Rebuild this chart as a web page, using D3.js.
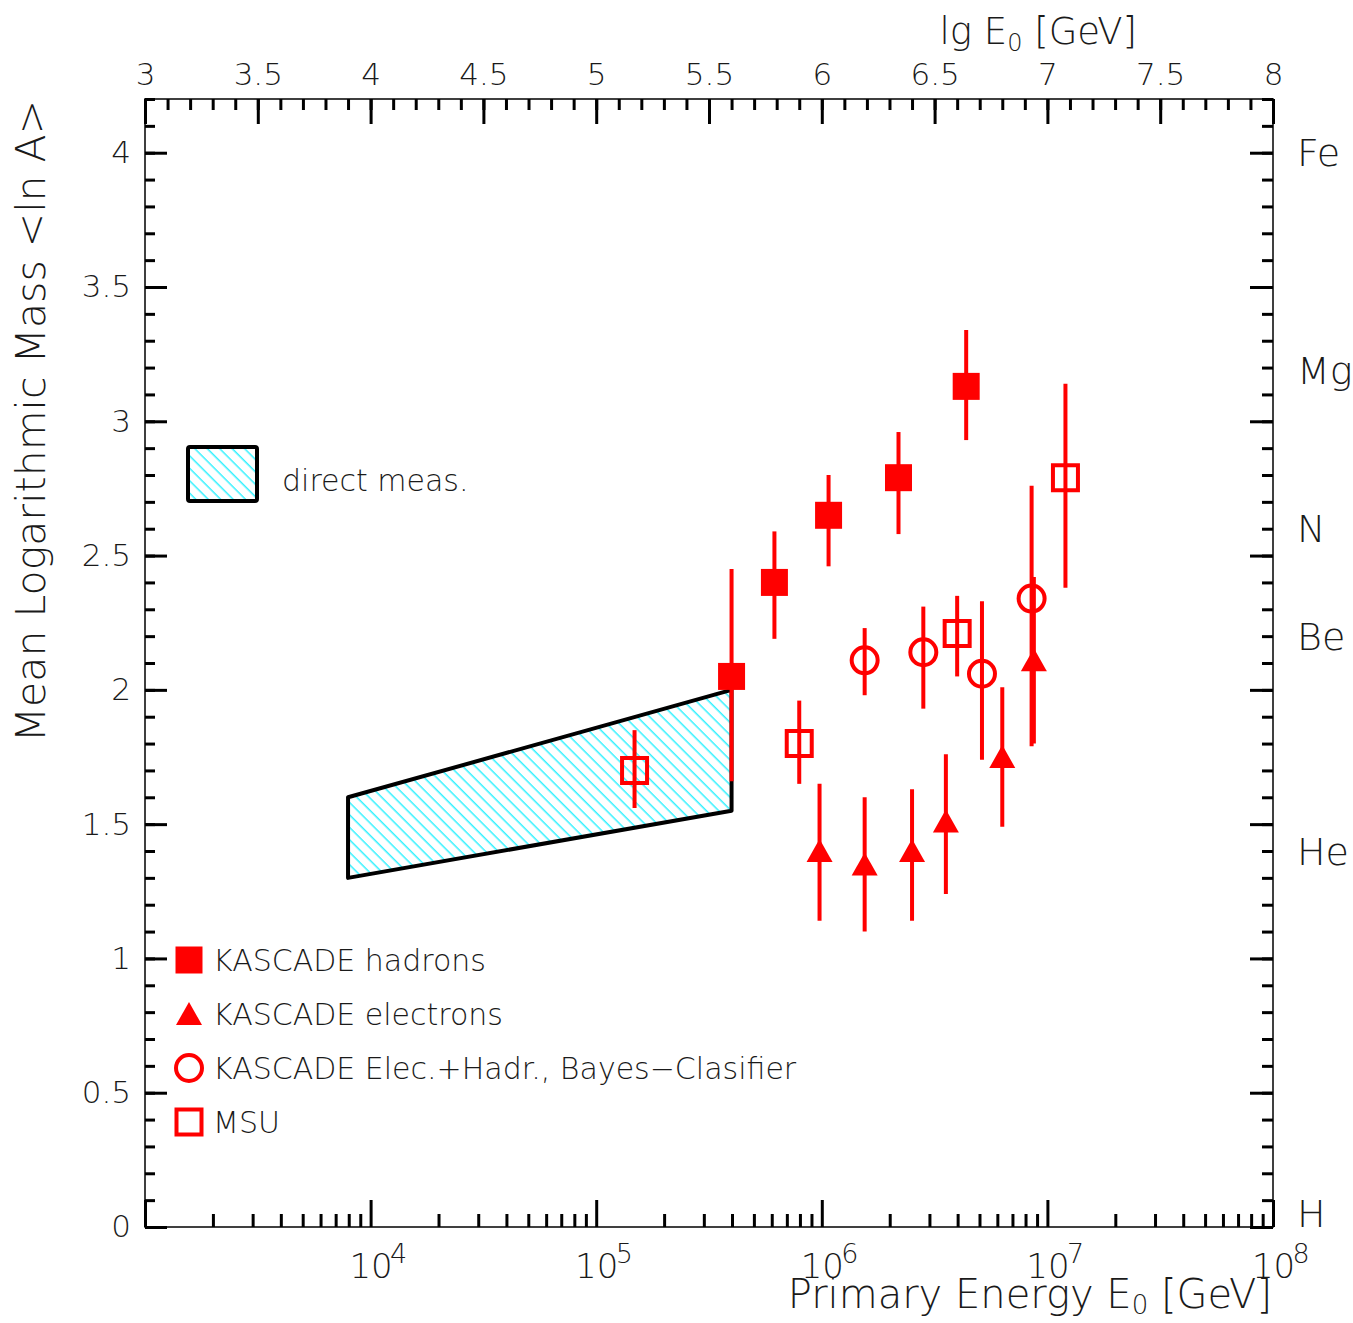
<!DOCTYPE html>
<html>
<head>
<meta charset="utf-8">
<script src="https://cdn.jsdelivr.net/npm/d3@7"></script>
<style>
  body { margin: 0; background: #fff; }
  text { font-family: "DejaVu Sans", sans-serif; font-weight: 200; fill: #1a1a1a; }
</style>
</head>
<body>
<svg id="chart"></svg>
<script>
'use strict'

// KASCADE hadrons (filled squares): lg E0, <ln A>, errors
const hadronLgE   = [5.60, 5.79, 6.03, 6.34, 6.64]
const hadronLnA   = [2.05, 2.40, 2.65, 2.79, 3.13]
const hadronErrUp = [0.40, 0.19, 0.15, 0.17, 0.21]
const hadronErrDn = [0.39, 0.21, 0.19, 0.21, 0.20]

// KASCADE electrons (filled triangles)
const electronLgE   = [5.99, 6.19, 6.40, 6.55, 6.80, 6.94]
const electronLnA   = [1.40, 1.35, 1.40, 1.51, 1.75, 2.11]
const electronErrUp = [0.25, 0.25, 0.23, 0.25, 0.26, 0.31]
const electronErrDn = [0.26, 0.25, 0.26, 0.27, 0.26, 0.31]

// KASCADE Elec.+Hadr., Bayes classifier (open circles)
const bayesLgE   = [6.19, 6.45, 6.71, 6.93]
const bayesLnA   = [2.11, 2.14, 2.06, 2.34]
const bayesErrUp = [0.12, 0.17, 0.27, 0.42]
const bayesErrDn = [0.13, 0.21, 0.32, 0.55]

// MSU (open squares)
const msuLgE   = [5.17, 5.90, 6.60, 7.08]
const msuLnA   = [1.70, 1.80, 2.21, 2.79]
const msuErrUp = [0.15, 0.16, 0.14, 0.35]
const msuErrDn = [0.14, 0.15, 0.16, 0.41]

// direct measurements band
const bandLgE  = [3.9, 5.6]
const bandLow  = [1.30, 1.55]
const bandHigh = [1.60, 2.00]

// element labels on the right side
const elementNames = ["H", "He", "Be", "N", "Mg", "Fe"]
const elementLnA   = [0.05, 1.40, 2.20, 2.60, 3.19, 4.00]

const legendLabels = ["KASCADE hadrons", "KASCADE electrons",
  "KASCADE Elec.+Hadr., Bayes\u2212Clasifier", "MSU"]
const legendSymbols = ["fsquare", "triangle", "circle", "osquare"]

const width = 1353, height = 1323
const margin = {left: 145, top: 99, right: 80, bottom: 96}
const W = width - margin.left - margin.right
const H = height - margin.top - margin.bottom
const red = "#ff0000"

const svg = d3.select("#chart").attr("width", width).attr("height", height)

const defs = svg.append("defs")
defs.append("pattern")
  .attr("id", "hatch").attr("patternUnits", "userSpaceOnUse")
  .attr("width", 8.8).attr("height", 8.8)
  .attr("patternTransform", "rotate(45)")
  .append("line")
  .attr("x1", 0).attr("x2", 8.8).attr("y1", 0.8).attr("y2", 0.8)
  .attr("stroke", "#00eeff").attr("stroke-width", 1.2)

const g = svg.append("g").attr("transform", `translate(${margin.left},${margin.top})`)

const xLg = d3.scaleLinear().domain([3, 8]).range([0, W])
const xLog = d3.scaleLog().domain([1e3, 1e8]).range([0, W])
const y = d3.scaleLinear().domain([0, 4.2]).range([H, 0])

function styleAxis(sel){
  sel.select(".domain").remove()
  sel.selectAll(".tick line").attr("stroke", "#000").attr("stroke-width", 3)
}

// top axis lg E0
g.append("g")
  .call(d3.axisTop(xLg).tickValues(d3.range(30, 81).map(i => i / 10)).tickSize(-11).tickFormat(""))
  .call(styleAxis)
g.append("g")
  .call(d3.axisTop(xLg).tickValues(d3.range(30, 81, 5).map(i => i / 10)).tickSize(-25).tickPadding(14)
    .tickFormat(d3.format("~g")))
  .call(styleAxis)
  .selectAll("text").attr("font-size", 31)

// left axis
g.append("g")
  .call(d3.axisLeft(y).tickValues(d3.range(0, 43).map(i => i / 10)).tickSize(-10).tickFormat(""))
  .call(styleAxis)
g.append("g")
  .call(d3.axisLeft(y).tickValues(d3.range(0, 9).map(i => i / 2)).tickSize(-22).tickPadding(14)
    .tickFormat(d3.format("~g")))
  .call(styleAxis)
  .selectAll("text").attr("font-size", 31)

// right axis
g.append("g").attr("transform", `translate(${W},0)`)
  .call(d3.axisRight(y).tickValues(d3.range(0, 43).map(i => i / 10)).tickSize(-11).tickFormat(""))
  .call(styleAxis)
g.append("g").attr("transform", `translate(${W},0)`)
  .call(d3.axisRight(y).tickValues(d3.range(0, 9).map(i => i / 2)).tickSize(-23).tickFormat(""))
  .call(styleAxis)

// bottom log axis
const decades = d3.range(3, 9).map(p => Math.pow(10, p))
const minorLog = d3.range(3, 8).flatMap(p => d3.range(2, 10).map(k => k * Math.pow(10, p)))
g.append("g").attr("transform", `translate(0,${H})`)
  .call(d3.axisBottom(xLog).tickValues(minorLog).tickSize(-13).tickFormat(""))
  .call(styleAxis)
const bottomMajor = g.append("g").attr("transform", `translate(0,${H})`)
  .call(d3.axisBottom(xLog).tickValues(decades).tickSize(-27).tickFormat(""))
  .call(styleAxis)
bottomMajor.selectAll(".tick").filter(d => d > 1e3).each(function(d){
  const t = d3.select(this)
  t.append("text").attr("y", 51).attr("text-anchor", "middle").attr("font-size", 34).text("10")
  t.append("text").attr("x", 19).attr("y", 36).attr("text-anchor", "start")
    .attr("font-size", 27).text(Math.round(Math.log10(d)))
})

// frame
g.append("rect").attr("width", W).attr("height", H)
  .attr("fill", "none").attr("stroke", "#000").attr("stroke-width", 1.5)

// element labels
g.append("g").selectAll("text").data(elementNames).join("text")
  .attr("x", W + 24).attr("y", (d, i) => y(elementLnA[i])).attr("dy", "0.36em")
  .attr("font-size", 38).text(d => d)

// direct measurement band
const bandPts = [[bandLgE[0], bandHigh[0]], [bandLgE[1], bandHigh[1]],
  [bandLgE[1], bandLow[1]], [bandLgE[0], bandLow[0]]]
g.append("path")
  .attr("d", d3.line().x(d => xLg(d[0])).y(d => y(d[1]))(bandPts) + "Z")
  .attr("fill", "url(#hatch)").attr("stroke", "#000").attr("stroke-width", 4)
  .attr("stroke-linejoin", "round")

// markers
function symbolPath(type, cx, cy){
  const p = d3.path()
  if (type === "fsquare") { p.rect(cx - 13.5, cy - 13.5, 27, 27) }
  else if (type === "osquare") { p.rect(cx - 12.5, cy - 12.5, 25, 25) }
  else if (type === "triangle") { p.moveTo(cx, cy - 12); p.lineTo(cx + 13, cy + 11); p.lineTo(cx - 13, cy + 11); p.closePath() }
  else if (type === "circle") { p.moveTo(cx + 13, cy); p.arc(cx, cy, 13, 0, 2 * Math.PI) }
  return p.toString()
}

function drawSeries(lg, val, up, dn, type){
  const data = lg.map((e, i) => ({e, v: val[i], up: up[i], dn: dn[i]}))
  const s = g.append("g")
  s.selectAll("line").data(data).join("line")
    .attr("x1", d => xLg(d.e)).attr("x2", d => xLg(d.e))
    .attr("y1", d => y(d.v + d.up)).attr("y2", d => y(d.v - d.dn))
    .attr("stroke", red).attr("stroke-width", 4)
  const filled = type === "fsquare" || type === "triangle"
  s.selectAll("path").data(data).join("path")
    .attr("d", d => symbolPath(type, xLg(d.e), y(d.v)))
    .attr("fill", filled ? red : "none")
    .attr("stroke", red).attr("stroke-width", filled ? 0 : 4)
}

drawSeries(hadronLgE, hadronLnA, hadronErrUp, hadronErrDn, "fsquare")
drawSeries(electronLgE, electronLnA, electronErrUp, electronErrDn, "triangle")
drawSeries(bayesLgE, bayesLnA, bayesErrUp, bayesErrDn, "circle")
drawSeries(msuLgE, msuLnA, msuErrUp, msuErrDn, "osquare")

// legend: direct meas.
g.append("rect").attr("x", 43).attr("y", 348).attr("width", 69).attr("height", 54).attr("rx", 2)
  .attr("fill", "url(#hatch)").attr("stroke", "#000").attr("stroke-width", 4)
g.append("text").attr("x", 137).attr("y", 381).attr("dy", "0.36em")
  .attr("font-size", 30).text("direct meas.")

// legend: series
const legend = g.append("g").attr("transform", "translate(44,861)")
legendLabels.forEach((lab, i) => {
  const ly = i * 54
  const type = legendSymbols[i]
  const filled = type === "fsquare" || type === "triangle"
  legend.append("path").attr("d", symbolPath(type, 0, ly))
    .attr("fill", filled ? red : "none").attr("stroke", red).attr("stroke-width", filled ? 0 : 4)
  legend.append("text").attr("x", 24).attr("y", ly).attr("dy", "0.36em")
    .attr("font-size", 30).text(lab)
})

// axis titles
const topTitle = svg.append("text").attr("x", 1137).attr("y", 44)
  .attr("text-anchor", "end").attr("font-size", 37)
topTitle.append("tspan").text("lg E")
topTitle.append("tspan").attr("font-size", 24).attr("dy", 7).text("0")
topTitle.append("tspan").attr("dy", -7).text(" [GeV]")

const botTitle = svg.append("text").attr("x", 1272).attr("y", 1308)
  .attr("text-anchor", "end").attr("font-size", 40)
botTitle.append("tspan").text("Primary Energy E")
botTitle.append("tspan").attr("font-size", 26).attr("dy", 6).text("0")
botTitle.append("tspan").attr("dy", -6).text(" [GeV]")

svg.append("text").attr("transform", "translate(45,100) rotate(-90)")
  .attr("text-anchor", "end").attr("font-size", 41)
  .text("Mean Logarithmic Mass <ln A>")
</script>
</body>
</html>
